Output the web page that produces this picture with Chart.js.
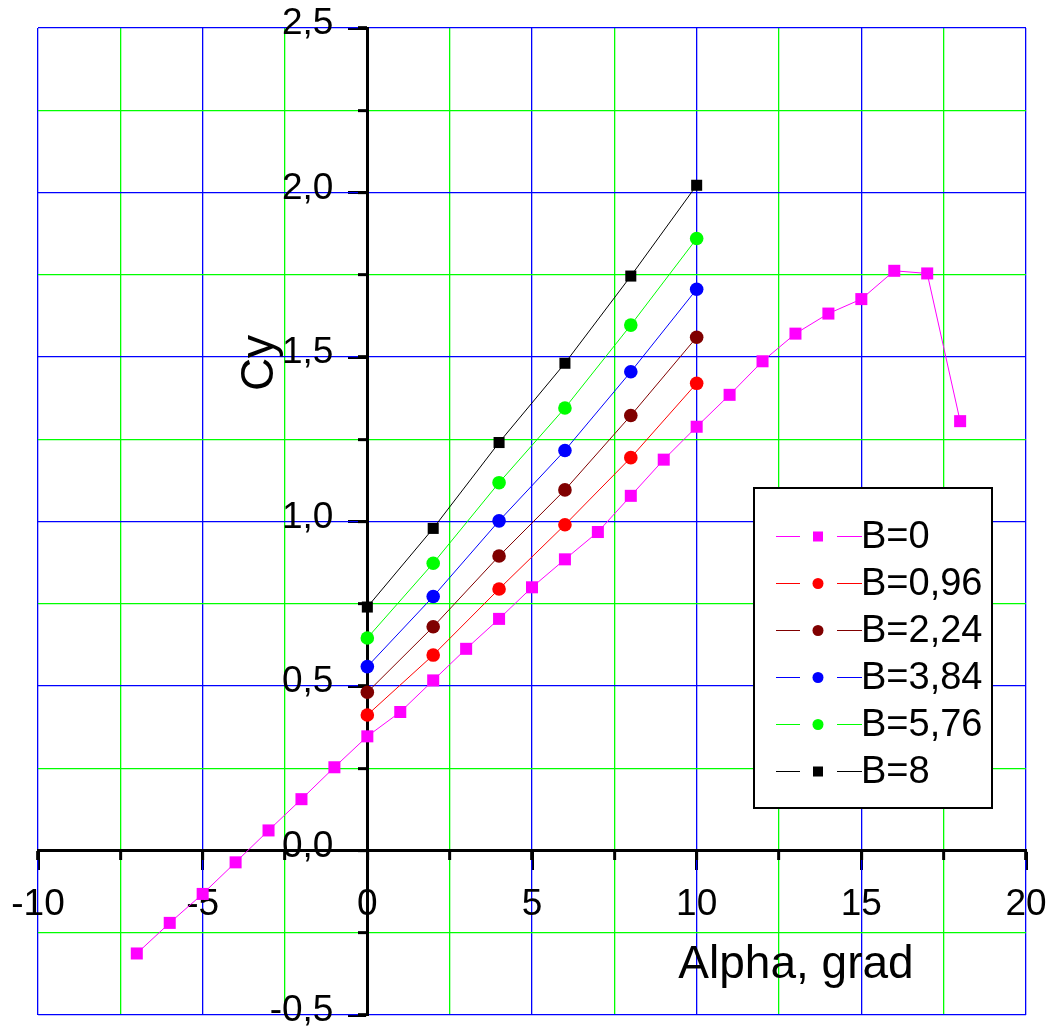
<!DOCTYPE html>
<html><head><meta charset="utf-8">
<style>html,body{margin:0;padding:0;background:#fff;overflow:hidden}#wrap{width:1051px;height:1032px}</style>
<script src="https://cdn.jsdelivr.net/npm/chart.js@4"></script>
</head><body><div id="wrap"><canvas id="c" width="1051" height="1032"></canvas></div>
<script>
// ---- data ----
const alphaB0 = [-7,-6,-5,-4,-3,-2,-1,0,1,2,3,4,5,6,7,8,9,10,11,12,13,14,15,16,17,18];
const cyB0 = [-0.313,-0.220,-0.132,-0.036,0.061,0.156,0.253,0.347,0.421,0.517,0.613,0.704,0.800,0.885,0.968,1.078,1.188,1.288,1.385,1.487,1.571,1.632,1.676,1.762,1.754,1.305];
const alphaB = [0,2,4,6,8,10];
const cyB096 = [0.412,0.594,0.795,0.990,1.194,1.420];
const cyB224 = [0.481,0.680,0.895,1.096,1.322,1.560];
const cyB384 = [0.559,0.772,1.002,1.216,1.455,1.706];
const cyB576 = [0.646,0.873,1.118,1.345,1.597,1.860];
const cyB8   = [0.740,0.979,1.240,1.481,1.746,2.022];
const seriesLabels = ['B=0','B=0,96','B=2,24','B=3,84','B=5,76','B=8'];
const xTitle = 'Alpha, grad';
const yTitle = 'Cy';

const FONT = '"Liberation Sans", Arial, sans-serif';
const seriesColors = ['#ff00ff','#ff0000','#800000','#0000ff','#00ff00','#000000'];
const seriesShapes = ['rect','circle','circle','circle','circle','rect'];
const seriesRadius = [8.5,6.8,6.8,6.8,6.8,7.8];
const seriesX = [alphaB0, alphaB, alphaB, alphaB, alphaB, alphaB];
const seriesY = [cyB0, cyB096, cyB224, cyB384, cyB576, cyB8];

const datasets = seriesLabels.map((lab, i) => ({
  label: lab,
  data: seriesX[i].map((x, k) => ({x: x, y: seriesY[i][k]})),
  borderColor: seriesColors[i],
  backgroundColor: seriesColors[i],
  borderWidth: 1,
  pointStyle: seriesShapes[i],
  pointRadius: seriesRadius[i],
  pointBorderWidth: 0,
  pointBackgroundColor: seriesColors[i],
  showLine: true,
  tension: 0,
  xAxisID: 'x',
  yAxisID: 'y'
}));

const BLUE = '#0000ff', GREEN = '#00ff00', NONE = 'rgba(0,0,0,0)';
const noPad = s => { s.paddingLeft = 0; s.paddingRight = 0; s.paddingTop = 0; s.paddingBottom = 0; };

const legendPlugin = {
  id: 'boxLegend',
  afterDatasetsDraw(chart) {
    const ctx = chart.ctx;
    ctx.save();
    const bx = 754, by = 488, bw = 238, bh = 320;
    ctx.fillStyle = '#fff';
    ctx.fillRect(bx, by, bw, bh);
    ctx.lineWidth = 2;
    ctx.strokeStyle = '#000';
    ctx.strokeRect(bx, by, bw, bh);
    chart.data.datasets.forEach((ds, i) => {
      const y = 536 + i * 47;
      ctx.strokeStyle = ds.borderColor;
      ctx.lineWidth = 1;
      ctx.beginPath();
      ctx.moveTo(776, y + 0.5); ctx.lineTo(800, y + 0.5);
      ctx.moveTo(837, y + 0.5); ctx.lineTo(862, y + 0.5);
      ctx.stroke();
      ctx.fillStyle = ds.backgroundColor;
      if (ds.pointStyle === 'rect') {
        ctx.fillRect(818 - 5, y - 4.5, 10, 10);
      } else {
        ctx.beginPath(); ctx.arc(818, y + 0.5, 5.5, 0, Math.PI * 2); ctx.fill();
      }
      ctx.fillStyle = '#000';
      ctx.font = '38px ' + FONT;
      ctx.textBaseline = 'middle';
      ctx.textAlign = 'left';
      ctx.fillText(ds.label, 861, y + 2);
    });
    ctx.restore();
  },
  afterDraw(chart) {
    const ctx = chart.ctx;
    ctx.save();
    ctx.fillStyle = '#000';
    ctx.font = '46px ' + FONT;
    ctx.textAlign = 'center';
    ctx.textBaseline = 'alphabetic';
    ctx.fillText(xTitle, 796, 978);
    ctx.translate(273, 363);
    ctx.rotate(-Math.PI / 2);
    ctx.fillText(yTitle, 0, 0);
    ctx.restore();
  }
};

const minorGrid = (step) => ({
  color: c => (Math.abs(Math.round(c.tick.value / step)) % 2 === 0 ? BLUE : GREEN),
  lineWidth: 1.3, drawOnChartArea: true, drawTicks: true, tickLength: 9, tickWidth: 3, tickColor: '#000'
});

new Chart(document.getElementById('c'), {
  type: 'scatter',
  data: { datasets: datasets },
  options: {
    responsive: false,
    animation: false,
    devicePixelRatio: 1,
    layout: { padding: { left: 38, right: 25, top: 28, bottom: 17 } },
    plugins: { legend: { display: false }, tooltip: { enabled: false } },
    scales: {
      // data x scale: labels + long ticks + axis line
      x: {
        type: 'linear', min: -10, max: 20, position: { y: 0 }, afterFit: noPad,
        ticks: { stepSize: 5, maxTicksLimit: 100, autoSkip: false, maxRotation: 0, color: '#000', padding: 14,
                 font: { family: FONT, size: 37 }, callback: v => String(v) },
        grid: { color: NONE, drawOnChartArea: false, drawTicks: true, tickLength: 18, tickWidth: 3, tickColor: '#000' },
        border: { display: true, color: '#000', width: 3 }
      },
      // minor x scale: grid lines and short ticks
      xMinor: {
        type: 'linear', min: -10, max: 20, position: { y: 0 }, afterFit: noPad,
        ticks: { stepSize: 2.5, maxTicksLimit: 100, display: false, autoSkip: false },
        grid: minorGrid(2.5),
        border: { display: false }
      },
      // data y scale: only labels, placed left of the axis line
      y: {
        type: 'linear', min: -0.5, max: 2.5, position: { x: -1.03 }, afterFit: noPad,
        ticks: { stepSize: 0.5, maxTicksLimit: 100, autoSkip: false, color: '#000', padding: 0, labelOffset: -4,
                 font: { family: FONT, size: 37 }, callback: v => Number(v).toFixed(1).replace('.', ',') },
        grid: { display: false },
        border: { display: false }
      },
      // major y scale at x=0: axis line + long ticks
      yMajor: {
        type: 'linear', min: -0.5, max: 2.5, position: { x: 0 }, afterFit: noPad,
        ticks: { stepSize: 0.5, maxTicksLimit: 100, display: false, autoSkip: false },
        grid: { color: NONE, drawOnChartArea: false, drawTicks: true, tickLength: 18, tickWidth: 3, tickColor: '#000' },
        border: { display: true, color: '#000', width: 3 }
      },
      // minor y scale: grid lines + short ticks
      yMinor: {
        type: 'linear', min: -0.5, max: 2.5, position: { x: 0 }, afterFit: noPad,
        ticks: { stepSize: 0.25, maxTicksLimit: 100, display: false, autoSkip: false },
        grid: minorGrid(0.25),
        border: { display: false }
      }
    }
  },
  plugins: [legendPlugin]
});
</script>
</body></html>
